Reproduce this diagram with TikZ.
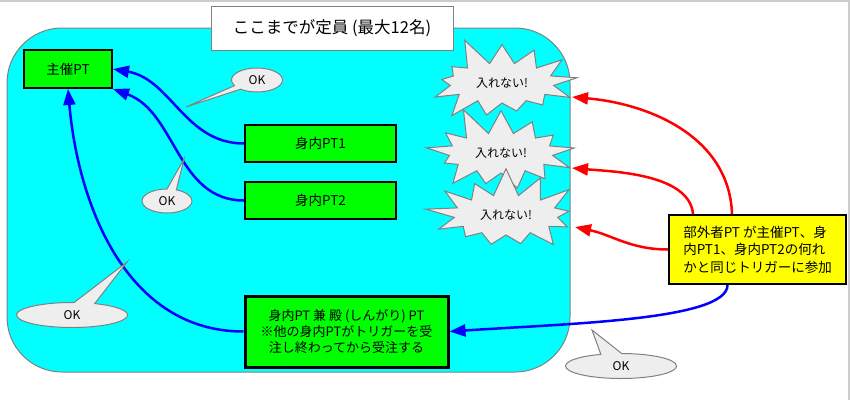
\documentclass[tikz,border=0pt]{standalone}
\usepackage{fontspec}
\setmainfont{Noto Sans CJK JP}
\usetikzlibrary{arrows.meta,calc,shapes.symbols,shapes.callouts}

\definecolor{boxgreen}{HTML}{00FF00}
\definecolor{zonecyan}{HTML}{00FFFF}
\definecolor{noteyellow}{HTML}{FFFF00}
\definecolor{bubblegray}{HTML}{EEEEEE}
\definecolor{edgegray}{HTML}{808080}
\definecolor{framegray}{HTML}{CCCCCC}

\tikzset{
  ptbox/.style={draw=black, line width=2pt, fill=boxgreen, minimum width=151pt, minimum height=37pt, inner sep=0pt, font=\fontsize{13.5}{16}\selectfont},
  burst/.style={starburst, starburst points=13, starburst point height=30pt, random starburst=5, draw=edgegray, fill=bubblegray, line width=1pt, minimum width=164pt, minimum height=100pt, inner sep=0pt, font=\fontsize{12}{14}\selectfont},
  okcall/.style={ellipse callout, draw=edgegray, fill=bubblegray, line width=1pt, callout pointer arc=22, inner sep=0pt, font=\fontsize{12}{14}\selectfont},
  blueline/.style={draw=blue, line width=2.5pt, -{Triangle[length=16pt,width=12pt]}},
  redline/.style={draw=red, line width=2.5pt, -{Triangle[length=16pt,width=12pt]}}
}

\begin{document}
\begin{tikzpicture}[x=1pt, y=-1pt]
    \useasboundingbox (0,0) rectangle (851,400);
    % frame of the page
    \draw[framegray, line width=1.5pt] (0,0.75) -- (849,0.75) -- (849,400);

    % members area
    \draw[edgegray, fill=zonecyan, line width=1pt, rounded corners=55pt] (7,28) rectangle (570,372);
    \node[draw=edgegray, fill=white, line width=1pt, minimum width=242pt, minimum height=44pt, font=\fontsize{16.5}{19}\selectfont] (title) at (332,28) {ここまでが定員 (最大12名)};

    \node[ptbox, minimum width=88pt, minimum height=38pt] (host) at (68,69) {主催PT};
    \node[ptbox] (pt1) at (320.5,143.5) {身内PT1};
    \node[ptbox] (pt2) at (320.5,200.5) {身内PT2};
    \node[ptbox, line width=3pt, minimum width=203pt, minimum height=71pt, align=center, font=\fontsize{13}{16}\selectfont] (last) at (346.5,331.5) {身内PT 兼 殿 (しんがり) PT\\※他の身内PTがトリガーを受\\注し終わってから受注する};

    \node[draw=black, line width=2pt, fill=noteyellow, minimum width=177pt, minimum height=69pt, inner sep=0pt, align=left, font=\fontsize{13.5}{17.5}\selectfont] (guest) at (757.5,249.5) {部外者PT が主催PT、身\\内PT1、身内PT2の何れ\\かと同じトリガーに参加};

    % rejected
    \node[burst] (s1) at (502,83) {入れない!};
    \node[burst, random starburst=11] (s2) at (501,153) {入れない!};
    \node[burst, random starburst=17] (s3) at (506,215) {入れない!};

    \draw[blueline] (pt1.west) to[out=180, in=-10] (host.east);
    \draw[blueline] (pt2.west) to[out=180, in=-20] (host.south east);
    \draw[blueline] (last.west) to[out=180, in=-85] (host.south);
    \draw[blueline] ([xshift=-30pt]guest.south) .. controls +(0,35) and +(120,-8) .. (last.east);

    \draw[redline] ([xshift=-25.5pt]guest.north) to[out=92, in=-5] ($(s1.center)+(70,14)$);
    \draw[redline] ([xshift=-64.5pt]guest.north) to[out=95, in=-5, looseness=0.8] ($(s2.center)+(71,15)$);
    \draw[redline] (guest.west) to[out=180, in=-12] ($(s3.center)+(69,12)$);

    % OK bubbles
    \node[okcall, minimum width=51pt, minimum height=24pt, callout absolute pointer={(186,107)}] (ok1) at (257,80) {OK};
    \node[okcall, minimum width=50pt, minimum height=24pt, callout absolute pointer={(184,159)}] (ok2) at (167,201) {OK};
    \node[okcall, minimum width=111pt, minimum height=25pt, callout absolute pointer={(127,262)}] (ok3) at (72,315) {OK};
    \node[okcall, minimum width=111pt, minimum height=25pt, callout absolute pointer={(592,330)}] (ok4) at (621,366) {OK};
\end{tikzpicture}
\end{document}
